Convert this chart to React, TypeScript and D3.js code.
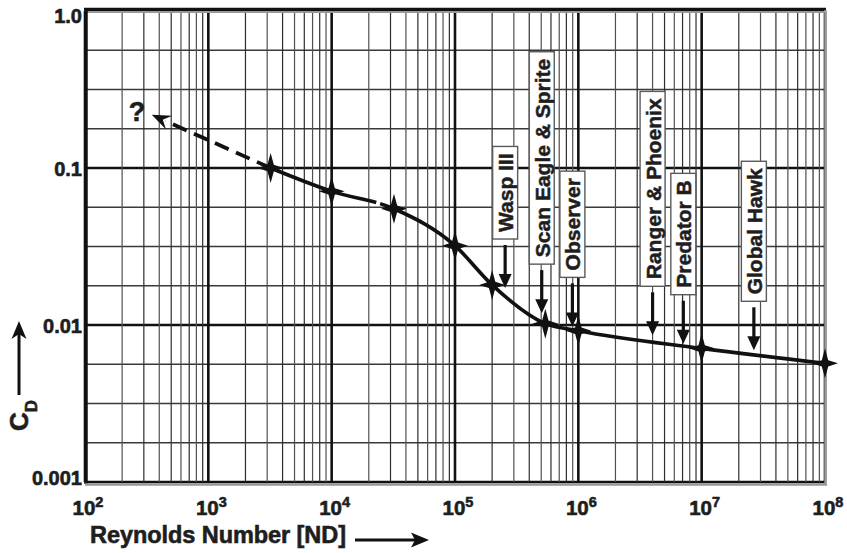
import React from "react";
import * as d3 from "d3";

// ---- data ----
const reynolds = [3.2e3, 1e4, 3.2e4, 1e5, 2e5, 5.4e5, 1e6, 1e7, 1e8];
const dragCoef = [0.1, 0.071, 0.055, 0.032, 0.018, 0.0102, 0.0092, 0.0071, 0.0057];
const extrapRe = [3.2e3, 348];
const extrapCd = [0.1, 0.218];
const curveBreakRe = 2.3e4;
const uavNames = ["Wasp III", "Scan Eagle & Sprite", "Observer", "Ranger & Phoenix", "Predator B", "Global Hawk"];
const uavRe = [2.55e5, 5.05e5, 8.95e5, 4.0e6, 7.1e6, 2.65e7];
const uavCd = [0.0172, 0.0119, 0.0098, 0.0086, 0.0076, 0.0069];
const xTickExp = [2, 3, 4, 5, 6, 7, 8];
const yTickValues = [1, 0.1, 0.01, 0.001];
const yTickLabels = ["1.0", "0.1", "0.01", "0.001"];
const xTitle = "Reynolds Number [ND]";

const W = 847;
const H = 553;
const FONT = "'Liberation Sans', Arial, Helvetica, sans-serif";
const TXT = "#1e1e1e";

function starPath(cx: number, cy: number) {
  const v = 15, h = 13, w = 3.2;
  return `M${cx},${cy - v} L${cx + w},${cy - w} L${cx + h},${cy} L${cx + w},${cy + w} L${cx},${cy + v} L${cx - w},${cy + w} L${cx - h},${cy} L${cx - w},${cy - w} Z`;
}

function CurvePath({ d, breakX }: { d: string; breakX: number }) {
  const ref = React.useRef<SVGPathElement>(null);
  const [dash, setDash] = React.useState<string | undefined>(undefined);
  React.useLayoutEffect(() => {
    const p = ref.current;
    if (!p) return;
    const L = p.getTotalLength();
    let lo = 0, hi = L;
    for (let k = 0; k < 40; k++) {
      const mid = (lo + hi) / 2;
      if (p.getPointAtLength(mid).x < breakX) lo = mid; else hi = mid;
    }
    setDash(`${lo} 4 ${L}`);
  }, [d, breakX]);
  return <path ref={ref} d={d} fill="none" stroke="#111" strokeWidth={3.6} strokeLinejoin="round" strokeDasharray={dash} />;
}

export default function App() {
  const x = d3.scaleLog().domain([1e2, 1e8]).range([85, 825]);
  const y = d3.scaleLog().domain([1e-3, 1]).range([482, 11]);

  const vLines: { v: number; major: boolean }[] = [];
  for (let k = 2; k <= 7; k++) {
    for (let m = 1; m <= 9; m++) vLines.push({ v: m * Math.pow(10, k), major: m === 1 });
  }
  vLines.push({ v: 1e8, major: true });

  const hLines: { v: number; major: boolean }[] = [];
  for (let i = 0; i <= 12; i++) hLines.push({ v: Math.pow(10, -3 + i / 4), major: i % 4 === 0 });

  const pts: [number, number][] = reynolds.map((r, i) => [x(r), y(dragCoef[i])]);
  const curve = d3.line().curve(d3.curveMonotoneX)(pts) || "";

  const ex0 = [x(extrapRe[0]), y(extrapCd[0])];
  const ex1 = [x(extrapRe[1]), y(extrapCd[1])];
  const ang = Math.atan2(ex1[1] - ex0[1], ex1[0] - ex0[0]);
  const headLen = 19, headW = 7.5;
  const hb = [ex1[0] - headLen * Math.cos(ang), ex1[1] - headLen * Math.sin(ang)];
  const px = -Math.sin(ang), py = Math.cos(ang);
  const headPts = `${ex1[0]},${ex1[1]} ${hb[0] + px * headW},${hb[1] + py * headW} ${ex1[0] - 12 * Math.cos(ang)},${ex1[1] - 12 * Math.sin(ang)} ${hb[0] - px * headW},${hb[1] - py * headW}`;

  const yOff = (i: number) => (i === 0 ? 5 : i === yTickValues.length - 1 ? -4 : 1);
  const heavy = { stroke: TXT, strokeWidth: 0.6, fill: TXT } as const;

  return (
    <svg width={W} height={H} style={{ position: "absolute", left: 0, top: 0, background: "#fff" }} fontFamily={FONT}>
      <rect x={0} y={0} width={W} height={H} fill="#fff" />
      {/* grid */}
      {hLines.map((d, i) => (
        <line key={"h" + i} x1={85} x2={825} y1={y(d.v)} y2={y(d.v)} stroke={d.major ? "#111" : "#3a3a3a"} strokeWidth={d.major ? 2.4 : 1.4} />
      ))}
      {vLines.map((d, i) => (
        <line key={"v" + i} x1={x(d.v)} x2={x(d.v)} y1={11} y2={482} stroke={d.major ? "#111" : i % 2 ? "#505050" : "#2e2e2e"} strokeWidth={d.major ? 2.6 : 1.2} />
      ))}
      {/* frame */}
      <line x1={84} x2={826} y1={9} y2={9} stroke="#111" strokeWidth={2.5} />
      <line x1={86} x2={825} y1={12} y2={12} stroke="#999" strokeWidth={2} />
      <line x1={86} x2={86} y1={8} y2={484} stroke="#111" strokeWidth={3.5} />
      <line x1={825.5} x2={825.5} y1={10} y2={485} stroke="#999" strokeWidth={2.5} />
      <line x1={85} x2={827} y1={484.5} y2={484.5} stroke="#999" strokeWidth={2.5} />

      {/* y tick labels */}
      {yTickValues.map((v, i) => (
        <text key={"yl" + i} x={82} y={y(v) + yOff(i)} textAnchor="end" dominantBaseline="central" fontSize={20} fontWeight="bold" {...heavy}>
          {yTickLabels[i]}
        </text>
      ))}
      {/* x tick labels */}
      {xTickExp.map((e) => (
        <text key={"xl" + e} x={x(Math.pow(10, e)) + 3} y={515} textAnchor="middle" fontSize={20.5} fontWeight="bold" {...heavy}>
          10<tspan dy={-8} fontSize={14.5}>{e}</tspan>
        </text>
      ))}

      {/* x title + arrow */}
      <text x={90} y={543} fontSize={23.5} fontWeight="bold" {...heavy} textLength={256}>{xTitle}</text>
      <line x1={355} x2={416} y1={540} y2={540} stroke="#111" strokeWidth={3} />
      <polygon points="429,540 411,532.5 415,540 411,547.5" fill="#111" />

      {/* y title + arrow */}
      <text transform="translate(28,431) rotate(-90)" fontSize={26} fontWeight="bold" {...heavy}>
        C<tspan dy={9} fontSize={17}>D</tspan>
      </text>
      <line x1={19} x2={19} y1={395} y2={334} stroke="#111" strokeWidth={3} />
      <polygon points="19,321 11.5,339 19,334 26.5,339" fill="#111" />

      {/* extrapolation */}
      <line x1={ex0[0]} y1={ex0[1]} x2={hb[0] + 4 * Math.cos(ang)} y2={hb[1] + 4 * Math.sin(ang)} stroke="#111" strokeWidth={3.8} strokeDasharray="15,8" />
      <polygon points={headPts} fill="#111" />
      <text x={137} y={112} textAnchor="middle" dominantBaseline="central" fontSize={27} fontWeight="bold" {...heavy}>?</text>

      {/* curve */}
      <CurvePath d={curve} breakX={x(curveBreakRe)} />
      {pts.map((p, i) => (
        <path key={"s" + i} d={starPath(p[0], p[1])} fill="#111" />
      ))}

      {/* UAV labels */}
      {uavNames.map((name, i) => {
        const ax = x(uavRe[i]);
        const tip = y(uavCd[i]);
        return (
          <g key={"u" + i}>
            <UavBox cx={ax} bottom={tip - 49} name={name} />
            <line x1={ax} x2={ax} y1={tip - 43} y2={tip - 10} stroke="#111" strokeWidth={3.2} />
            <polygon points={`${ax},${tip} ${ax - 6.5},${tip - 14} ${ax + 6.5},${tip - 14}`} fill="#111" />
          </g>
        );
      })}
    </svg>
  );
}

function UavBox({ cx, bottom, name }: { cx: number; bottom: number; name: string }) {
  const ref = React.useRef<SVGTextElement>(null);
  const [len, setLen] = React.useState(name.length * 11);
  React.useLayoutEffect(() => {
    if (ref.current) setLen(ref.current.getComputedTextLength());
  }, [name]);
  const pad = 7;
  const h = len + pad * 2;
  return (
    <g>
      <rect x={cx - 12.5} y={bottom - h} width={25} height={h} fill="#fff" stroke="#5a5a5a" strokeWidth={1.4} />
      <text ref={ref} transform={`translate(${cx + 8},${bottom - pad}) rotate(-90)`} fontSize={21} fontWeight="bold" fill={TXT} stroke={TXT} strokeWidth={0.5}>
        {name}
      </text>
    </g>
  );
}
